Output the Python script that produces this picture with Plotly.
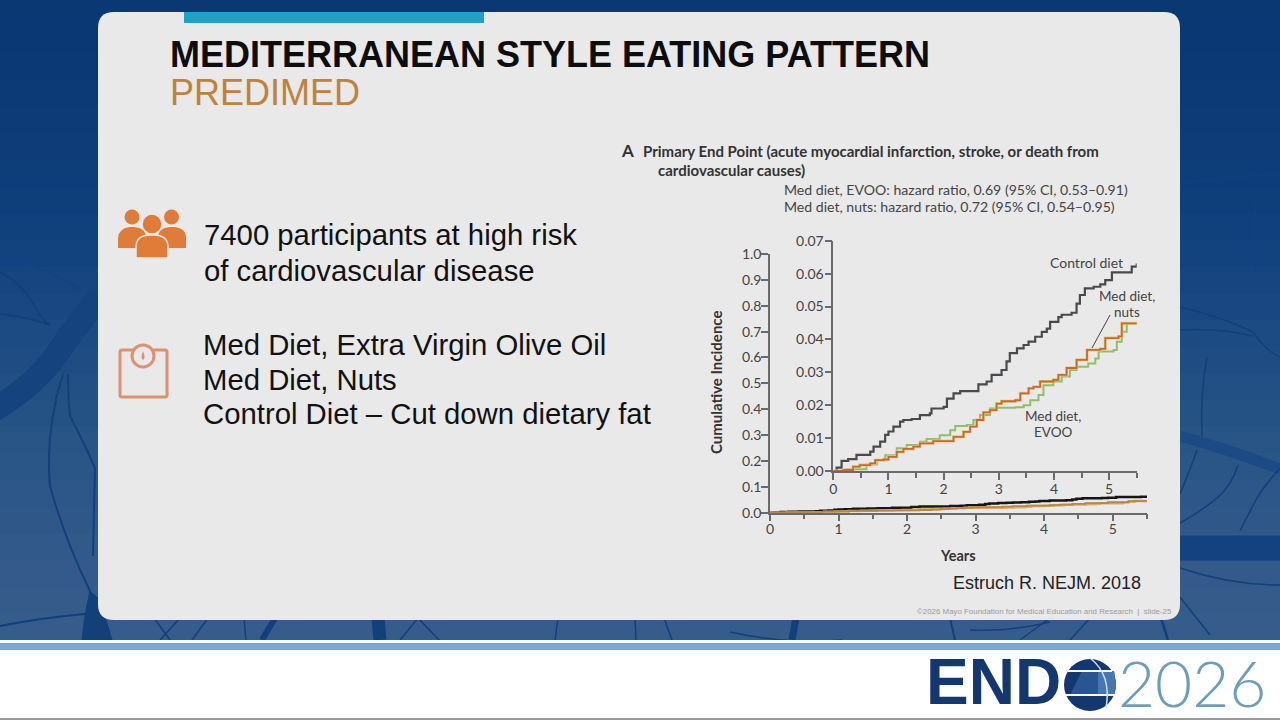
import plotly.graph_objects as go

# values, inset axes units
control_x = [0, 0.06, 0.15, 0.27, 0.42, 0.67, 0.73, 0.85, 0.94, 1.0, 1.09, 1.21, 1.27, 1.42, 1.57, 1.75, 1.78, 2.0, 2.06, 2.18, 2.30, 2.57, 2.63, 2.78, 2.87, 3.05, 3.14, 3.2, 3.33, 3.45, 3.54, 3.66, 3.78, 3.87, 3.93, 4.08, 4.14, 4.32, 4.41, 4.47, 4.56, 4.72, 4.84, 4.93, 5.05, 5.38, 5.41, 5.5]
control_y = [0, 0.001, 0.0031, 0.0036, 0.0049, 0.0059, 0.0074, 0.0089, 0.011, 0.012, 0.0135, 0.015, 0.0155, 0.0158, 0.017, 0.0175, 0.019, 0.0195, 0.022, 0.0236, 0.0243, 0.0243, 0.0263, 0.0272, 0.0292, 0.0307, 0.0333, 0.0358, 0.0373, 0.0383, 0.0393, 0.0408, 0.0423, 0.0433, 0.0453, 0.0468, 0.0475, 0.0481, 0.0509, 0.0535, 0.0555, 0.056, 0.0567, 0.058, 0.0604, 0.0604, 0.0621, 0.0631]
nuts_x = [0, 0.18, 0.36, 0.48, 0.67, 0.76, 0.91, 1.0, 1.15, 1.27, 1.45, 1.57, 1.81, 2.09, 2.18, 2.36, 2.48, 2.6, 2.72, 2.84, 2.96, 3.05, 3.3, 3.39, 3.54, 3.63, 3.75, 3.99, 4.08, 4.23, 4.41, 4.6, 4.84, 4.93, 5.17, 5.23, 5.5]
nuts_y = [0, 0.0003, 0.0013, 0.0018, 0.0023, 0.0033, 0.0035, 0.0043, 0.0058, 0.0067, 0.0074, 0.0084, 0.0091, 0.0091, 0.0104, 0.0119, 0.0135, 0.0155, 0.0178, 0.0185, 0.0205, 0.0212, 0.0215, 0.0236, 0.0251, 0.0256, 0.0272, 0.0277, 0.0292, 0.0313, 0.0338, 0.0368, 0.0371, 0.0404, 0.0409, 0.0449, 0.0451]
evoo_x = [0, 0.24, 0.6, 0.79, 0.94, 1.15, 1.33, 1.57, 1.69, 1.93, 2.12, 2.21, 2.42, 2.54, 2.66, 2.84, 2.96, 3.3, 3.45, 3.57, 3.72, 3.81, 3.99, 4.14, 4.29, 4.41, 4.62, 4.75, 4.81, 5.08, 5.14, 5.23, 5.32, 5.5]
evoo_y = [0, 0.0005, 0.002, 0.0033, 0.0048, 0.0069, 0.0079, 0.0089, 0.0097, 0.0109, 0.0124, 0.0137, 0.014, 0.0155, 0.017, 0.019, 0.0192, 0.0194, 0.02, 0.0215, 0.0231, 0.0261, 0.0272, 0.0287, 0.0307, 0.0317, 0.0327, 0.0342, 0.0363, 0.0368, 0.0393, 0.0423, 0.0449, 0.0451]

outer_yticks = [0.0, 0.1, 0.2, 0.3, 0.4, 0.5, 0.6, 0.7, 0.8, 0.9, 1.0]
inner_yticks = [0.00, 0.01, 0.02, 0.03, 0.04, 0.05, 0.06, 0.07]
year_ticks = [0, 1, 2, 3, 4, 5]

W, H = 1280, 720
ARIAL = 'Liberation Sans'
LATO = 'Lato'
CARD = '#e9e9ea'
AXIS = '#6a6a6a'
NERVE = '#134079'


def fx(x):
    return x / W


def fy(y):
    return 1 - y / H


def p(path):
    # path written in screen pixels, turned into paper coordinates
    out = []
    is_x = True
    for tok in path.split():
        if tok.isalpha():
            out.append(tok)
        else:
            out.append(str(fx(float(tok)) if is_x else fy(float(tok))))
            is_x = not is_x
    return ' '.join(out)


def rounded(x0, y0, x1, y1, r):
    return p(f'M {x0+r} {y0} L {x1-r} {y0} Q {x1} {y0} {x1} {y0+r} L {x1} {y1-r} Q {x1} {y1} {x1-r} {y1} '
             f'L {x0+r} {y1} Q {x0} {y1} {x0} {y1-r} L {x0} {y0+r} Q {x0} {y0} {x0+r} {y0} Z')


shapes = []


def rect(x0, y0, x1, y1, color):
    shapes.append(dict(type='rect', xref='paper', yref='paper', x0=fx(x0), x1=fx(x1), y0=fy(y1), y1=fy(y0),
                       fillcolor=color, line_width=0, layer='below'))


def circle(cx, cy, r, color, line=None, width=0):
    shapes.append(dict(type='circle', xref='paper', yref='paper', x0=fx(cx-r), x1=fx(cx+r), y0=fy(cy+r), y1=fy(cy-r),
                       fillcolor=color, line=dict(color=line, width=width) if line else dict(width=0), layer='below'))


def curve(path, color, width, fill=None):
    s = dict(type='path', xref='paper', yref='paper', path=p(path), line=dict(color=color, width=width), layer='below')
    if fill:
        s['fillcolor'] = fill
    shapes.append(s)


# slide background, dark navy going lighter towards the bottom
bands = ['#0a3873', '#0a3874', '#0b3975', '#0b3a76', '#0c3b77', '#0d3c78', '#0e3e7a', '#0f3f7b', '#11417c', '#13437e', '#16457f', '#194781',
         '#1c4a82', '#1f4d83', '#225084', '#255285', '#285486', '#2a5587', '#2d5788', '#2f5889', '#31598a', '#335a8a', '#345b8a', '#355c8b']
for i, col in enumerate(bands):
    rect(0, i * 640 / len(bands), W, (i + 1) * 640 / len(bands) + 1, col)

# nerve texture in the margins
curve('M -15 415 Q 40 385 67 339 Q 85 315 100 296', '#15437e', 24)
curve('M 63 374 Q 45 430 50 486 Q 65 540 90 591', NERVE, 2)
curve('M 68 374 Q 68 400 70 416 Q 85 445 95 468 L 93 556', NERVE, 2)
curve('M 0 314 Q 25 316 50 325', NERVE, 2)
curve('M 0 258 Q 40 265 80 289', '#154280', 2)
curve('M 0 272 Q 20 282 33 303 Q 40 318 50 325', NERVE, 2)
curve('M 0 626 Q 40 618 85 614', NERVE, 2)
curve('M 90 591 Q 84 615 82 640 L 112 640 L 100 600 Z', NERVE, 1, NERVE)
curve('M 1180 436 Q 1230 450 1280 469', '#1c4a84', 11)
curve('M 1180 548 L 1280 548', '#14417f', 25)
curve('M 1180 183 Q 1230 176 1280 174', '#114080', 1)
curve('M 1240 214 L 1270 250 M 1230 245 L 1280 220 M 1255 205 L 1255 272', '#124280', 1)
curve('M 1180 307 Q 1225 318 1253 332 Q 1265 350 1280 357', NERVE, 1.5)
curve('M 1180 330 Q 1220 328 1253 336', NERVE, 1.5)
curve('M 1207 357 Q 1200 395 1202 436', NERVE, 1.5)
curve('M 1197 450 Q 1190 470 1180 494', NERVE, 1.5)
curve('M 1238 465 Q 1232 485 1217 498 Q 1200 512 1180 523', NERVE, 1.5)
curve('M 1280 469 Q 1268 480 1257 498 Q 1248 515 1240 531', NERVE, 1.5)
curve('M 1180 568 Q 1230 585 1280 585', NERVE, 1.5)
curve('M 1180 597 Q 1190 610 1210 635', NERVE, 1.5)
curve('M 1160 615 L 1168 640', NERVE, 2.5)
for x0, x1, w in [(154, 170, 1.5), (180, 160, 1.5), (208, 192, 1.5), (244, 246, 1.5), (275, 262, 6), (378, 380, 13),
                  (418, 400, 1.5), (418, 439, 1.5), (558, 555, 1.5), (635, 636, 1.5), (664, 672, 1.5), (796, 792, 7),
                  (950, 955, 2), (1050, 1020, 1.5), (1090, 1070, 1.5)]:
    curve(f'M {x0} 618 L {x1} 640', NERVE, w)
curve('M 730 632 Q 790 645 842 640', NERVE, 1.5)
curve('M 970 630 Q 1010 632 1050 622', NERVE, 1.5)

# footer
rect(0, 640, W, 720, '#ffffff')
rect(0, 643, W, 650, '#79a9d2')
rect(0, 718, W, 720, '#9a9a9a')

# card and teal tab
shapes.append(dict(type='path', xref='paper', yref='paper', path=rounded(98, 12, 1180, 620, 16),
                   fillcolor=CARD, line_width=0, layer='below'))
rect(184, 12, 484, 23, '#1ea0c9')

# people icon
ORANGE = '#e07c37'
circle(132, 217, 7.5, ORANGE)
circle(171.5, 217, 7.5, ORANGE)
curve('M 118 248 L 118 238 Q 119 228 130 227 L 134 227 Q 146 228 146 238 L 146 248 Z', ORANGE, 0, ORANGE)
curve('M 158 248 L 158 238 Q 158 228 170 227 L 174 227 Q 186 228 186 238 L 186 248 Z', ORANGE, 0, ORANGE)
circle(152, 224, 10, ORANGE, CARD, 1.5)
curve('M 136 258 L 136 246 Q 137 235 150 235 L 154 235 Q 167 235 168 246 L 168 258 Z', CARD, 1.5, ORANGE)

# scale icon
SCALE = '#dc9173'
shapes.append(dict(type='path', xref='paper', yref='paper', path=rounded(120, 350, 167, 397, 2),
                   fillcolor='rgba(0,0,0,0)', line=dict(color=SCALE, width=3), layer='below'))
circle(143, 356, 11, CARD, SCALE, 3)
curve('M 143 351 Q 146 358 143 360 Q 140 358 143 351 Z', SCALE, 0, SCALE)

# globe of the logo
NAVY = '#14376f'
circle(1090, 685, 26, NAVY)
curve('M 1082 671 L 1114 671 L 1116 685 L 1114 695 L 1070 695 Q 1075 685 1082 671 Z', '#2a5590', 0, '#2a5590')
curve('M 1098 671 L 1114 671 L 1116 685 L 1114 695 L 1098 695 Z', '#4677b0', 0, '#4677b0')
curve('M 1068 671 L 1112 671', '#ffffff', 2)
curve('M 1065 695 L 1115 695', '#ffffff', 2)
curve('M 1090 658 Q 1112 675 1106 708', '#cfe0ee', 1.5)


def label(x, y, text, size, color='#111111', family=ARIAL, bold=False, anchor='left', angle=0):
    return dict(xref='paper', yref='paper', x=fx(x), y=fy(y), text=f'<b>{text}</b>' if bold else text, showarrow=False,
                xanchor=anchor, yanchor='middle', textangle=angle, font=dict(size=size, color=color, family=family))


annotations = [
    label(168, 55, 'MEDITERRANEAN STYLE EATING PATTERN', 36, '#0d0d0d', bold=True),
    label(168, 93, 'PREDIMED', 36, '#c08239'),
    label(202, 235, '7400 participants at high risk', 29.3),
    label(202, 270, 'of cardiovascular disease', 29.3),
    label(201, 344, 'Med Diet, Extra Virgin Olive Oil', 29.3),
    label(201, 379, 'Med Diet, Nuts', 29.3),
    label(201, 414, 'Control Diet – Cut down dietary fat', 29.3),
    label(619, 150, 'A', 17, '#333333', LATO, True),
    label(641, 151, 'Primary End Point (acute myocardial infarction, stroke, or death from', 15, '#333333', LATO, True),
    label(656, 170, 'cardiovascular causes)', 15, '#333333', LATO, True),
    label(782, 190, 'Med diet, EVOO: hazard ratio, 0.69 (95% CI, 0.53–0.91)', 14.1, '#444444', LATO),
    label(782, 207, 'Med diet, nuts: hazard ratio, 0.72 (95% CI, 0.54–0.95)', 14.1, '#444444', LATO),
    label(716, 383, 'Cumulative Incidence', 15, '#333333', LATO, True, 'center', -90),
    label(958, 555, 'Years', 14.5, '#333333', LATO, True, 'center'),
    label(1086, 262, 'Control diet', 14, '#444444', LATO, anchor='center'),
    label(1127, 296, 'Med diet,', 13.5, '#444444', LATO, anchor='center'),
    label(1127, 312, 'nuts', 13.5, '#444444', LATO, anchor='center'),
    label(1053, 416, 'Med diet,', 13.5, '#444444', LATO, anchor='center'),
    label(1053, 432, 'EVOO', 13.5, '#444444', LATO, anchor='center'),
    label(951, 583, 'Estruch R. NEJM. 2018', 18, '#222222'),
    label(915, 611, '©2026 Mayo Foundation for Medical Education and Research  |  slide-25', 7.9, '#9a9a9a'),
    label(924, 682, '<b>END</b>', 64, NAVY),
    label(1116, 682, '2026', 64, '#6d9dbd', 'Lato Light, Lato'),
]

# leader from the nuts label to its curve
curve('M 1110 315 L 1092 348', '#444444', 1)

fig = go.Figure()

# big axes, whole range
fig.add_trace(go.Scatter(x=control_x, y=control_y, mode='lines', line=dict(color='#161616', width=2.5, shape='hv'),
                         xaxis='x', yaxis='y', name='Control diet'))
fig.add_trace(go.Scatter(x=evoo_x, y=evoo_y, mode='lines', line=dict(color='#d9ae6a', width=2.5, shape='hv'),
                         xaxis='x', yaxis='y', name='Med diet, EVOO'))
fig.add_trace(go.Scatter(x=nuts_x, y=nuts_y, mode='lines', line=dict(color='#b5854b', width=1.8, shape='hv'),
                         xaxis='x', yaxis='y', name='Med diet, nuts'))

# zoomed inset
fig.add_trace(go.Scatter(x=control_x, y=control_y, mode='lines', line=dict(color='#4a4a4c', width=2.2, shape='hv'),
                         xaxis='x2', yaxis='y2', name='Control diet'))
fig.add_trace(go.Scatter(x=evoo_x, y=evoo_y, mode='lines', line=dict(color='#8fbf6c', width=2, shape='hv'),
                         xaxis='x2', yaxis='y2', name='Med diet, EVOO'))
fig.add_trace(go.Scatter(x=nuts_x, y=nuts_y, mode='lines', line=dict(color='#f0c877', width=3, shape='hv'),
                         xaxis='x2', yaxis='y2', name='Med diet, nuts'))
fig.add_trace(go.Scatter(x=nuts_x, y=nuts_y, mode='lines', line=dict(color='#c06c33', width=1.8, shape='hv'),
                         xaxis='x2', yaxis='y2', name='Med diet, nuts'))

tick_font = dict(family=LATO, size=14, color='#444444')
xstyle = dict(showgrid=False, zeroline=False, showline=True, linecolor=AXIS, linewidth=1.5, ticks='outside', ticklen=7,
              tickwidth=1.5, tickcolor=AXIS, tickfont=tick_font, tickvals=year_ticks, fixedrange=True,
              minor=dict(dtick=0.5, ticks='outside', ticklen=5, tickwidth=1.5, tickcolor=AXIS, showgrid=False))
ystyle = dict(showgrid=False, zeroline=False, showline=True, linecolor=AXIS, linewidth=1.5, ticks='outside', ticklen=7,
              tickwidth=1.5, tickcolor=AXIS, tickfont=tick_font, fixedrange=True)

fig.update_layout(
    width=W, height=H,
    margin=dict(l=0, r=0, t=0, b=0, autoexpand=False),
    paper_bgcolor='#ffffff',
    plot_bgcolor='rgba(0,0,0,0)',
    showlegend=False,
    shapes=shapes,
    annotations=annotations,
    xaxis=dict(domain=[fx(770), fx(1147)], range=[0, 5.5], anchor='y', ticklabelstandoff=-4, **xstyle),
    yaxis=dict(domain=[fy(512.7), fy(254)], range=[0, 1], anchor='x', tickvals=outer_yticks, tickformat='.1f',
               ticklabelstandoff=-3, **ystyle),
    xaxis2=dict(domain=[fx(833.3), fx(1136.7)], range=[0, 5.5], anchor='y2', ticklabelstandoff=-3, **xstyle),
    yaxis2=dict(domain=[fy(471), fy(240.7)], range=[0, 0.07], anchor='x2', tickvals=inner_yticks, tickformat='.2f',
                ticklabelstandoff=-2, **ystyle),
)

fig.write_html("out.html", config={'displayModeBar': False}, post_script="document.body.style.margin='0';")
